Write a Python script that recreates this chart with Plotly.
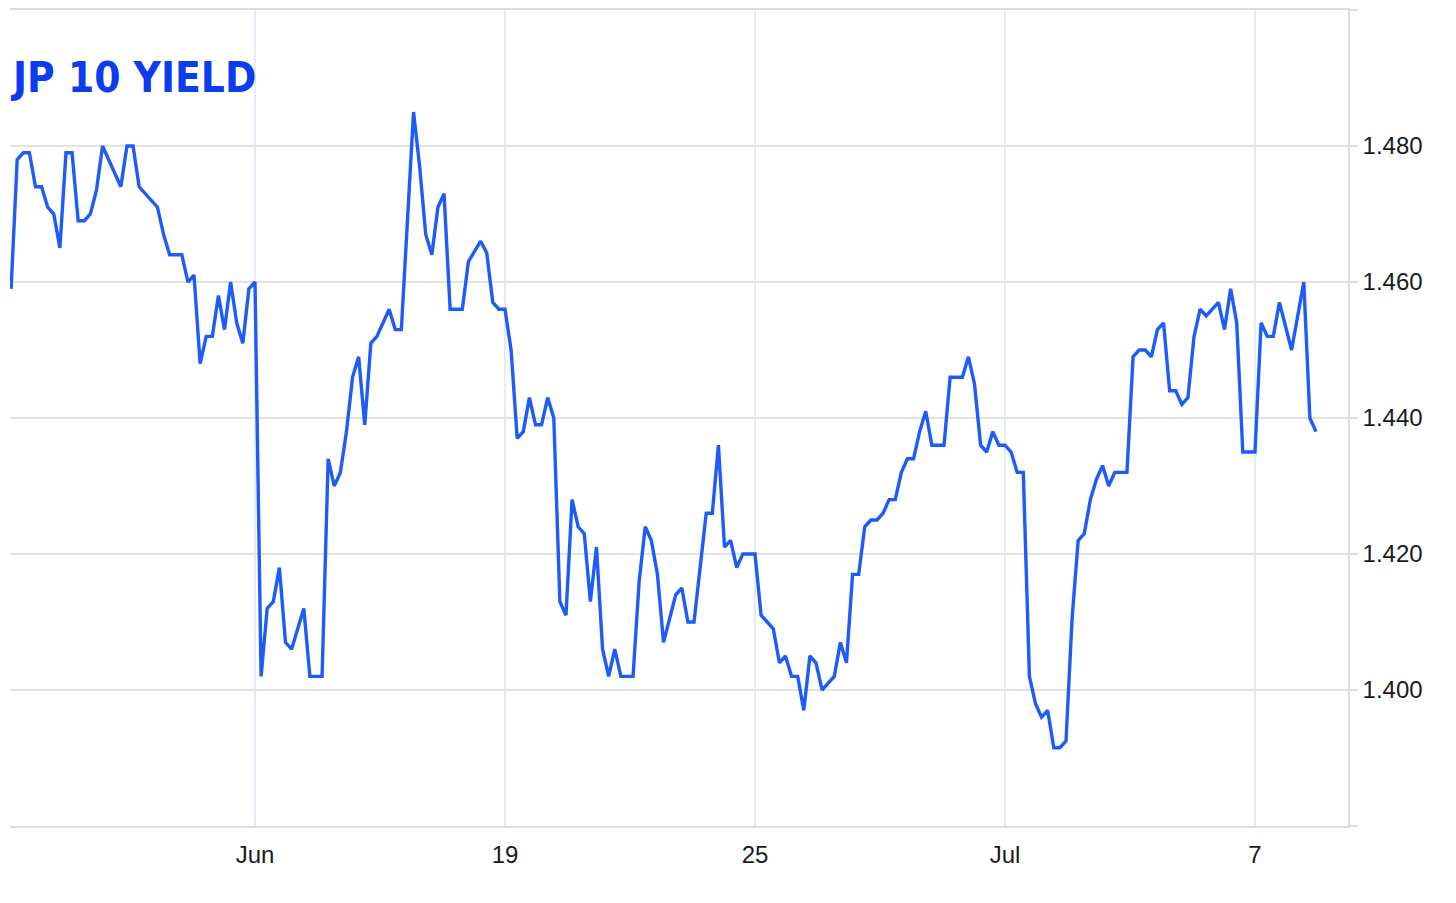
import plotly.graph_objects as go

# sample index (uniform intraday sampling), only turning points listed
sample_idx = [0, 1, 2, 3, 4, 5, 6, 7, 8, 9, 10, 11, 12, 13, 14, 15, 18, 19, 20, 21,
              24, 25, 26, 28, 29, 30, 31, 32, 33, 34, 35, 36, 37, 38, 39, 40, 41, 42, 43, 44,
              45, 46, 48, 49, 51, 52, 53, 54, 55, 56, 57, 58, 59, 60, 61, 62, 63, 64, 66, 67,
              68, 69, 70, 71, 72, 74, 75, 76, 77, 78, 79, 80, 81, 82, 83, 84, 85, 86, 87, 88,
              89, 90, 91, 92, 93, 94, 95, 96, 97, 98, 99, 100, 102, 103, 104, 105, 106, 107, 108, 109,
              110, 111, 112, 113, 114, 115, 116, 117, 118, 119, 120, 122, 123, 124, 125, 126, 127, 128, 129, 130,
              131, 132, 133, 134, 135, 136, 137, 138, 139, 140, 141, 142, 143, 144, 145, 146, 147, 148, 149, 150,
              151, 153, 154, 156, 157, 158, 159, 160, 161, 162, 163, 164, 165, 166, 167, 168, 169, 170, 171, 172,
              173, 174, 175, 176, 177, 178, 179, 180, 181, 183, 184, 185, 186, 187, 188, 189, 190, 191, 192, 193,
              194, 195, 196, 198, 199, 200, 201, 202, 204, 205, 206, 207, 208, 210, 212, 213, 214]

yield_pct = [1.459, 1.478, 1.479, 1.479, 1.474, 1.474, 1.471, 1.470, 1.465, 1.479, 1.479, 1.469, 1.469, 1.470, 1.4735, 1.480, 1.474, 1.480, 1.480, 1.474,
             1.471, 1.467, 1.464, 1.464, 1.460, 1.461, 1.448, 1.452, 1.452, 1.458, 1.453, 1.460, 1.454, 1.451, 1.459, 1.460, 1.402, 1.412, 1.413, 1.418,
             1.407, 1.406, 1.412, 1.402, 1.402, 1.434, 1.430, 1.432, 1.438, 1.446, 1.449, 1.439, 1.451, 1.452, 1.454, 1.456, 1.453, 1.453, 1.485, 1.477,
             1.467, 1.464, 1.471, 1.473, 1.456, 1.456, 1.463, 1.4645, 1.466, 1.4643, 1.457, 1.456, 1.456, 1.450, 1.437, 1.438, 1.443, 1.439, 1.439, 1.443,
             1.440, 1.413, 1.411, 1.428, 1.424, 1.423, 1.413, 1.421, 1.406, 1.402, 1.406, 1.402, 1.402, 1.416, 1.424, 1.422, 1.417, 1.407, 1.4105, 1.414,
             1.415, 1.410, 1.410, 1.4185, 1.426, 1.426, 1.436, 1.421, 1.422, 1.418, 1.420, 1.420, 1.411, 1.410, 1.409, 1.404, 1.405, 1.402, 1.402, 1.397,
             1.405, 1.404, 1.400, 1.401, 1.402, 1.407, 1.404, 1.417, 1.417, 1.424, 1.425, 1.425, 1.426, 1.428, 1.428, 1.432, 1.434, 1.434, 1.438, 1.441,
             1.436, 1.436, 1.446, 1.446, 1.449, 1.445, 1.436, 1.435, 1.438, 1.436, 1.436, 1.435, 1.432, 1.432, 1.402, 1.398, 1.396, 1.397, 1.3915, 1.3915,
             1.3925, 1.4105, 1.422, 1.423, 1.428, 1.431, 1.433, 1.430, 1.432, 1.432, 1.449, 1.450, 1.450, 1.449, 1.453, 1.454, 1.444, 1.444, 1.442, 1.443,
             1.452, 1.456, 1.455, 1.457, 1.453, 1.459, 1.454, 1.435, 1.435, 1.454, 1.452, 1.452, 1.457, 1.450, 1.460, 1.440, 1.438]

x_tick_pos = [40, 81, 122, 163, 204]
x_tick_text = ["Jun", "19", "25", "Jul", "7"]
y_tick_vals = [1.38, 1.40, 1.42, 1.44, 1.46, 1.48, 1.50]
y_tick_text = ["", "1.400", "1.420", "1.440", "1.460", "1.480", ""]

fig = go.Figure()
fig.add_trace(go.Scatter(
    x=sample_idx, y=yield_pct, mode="lines",
    line=dict(color="#1d5cf8", width=3.4),
    hoverinfo="skip", showlegend=False,
))

fig.update_layout(
    width=1448, height=895,
    margin=dict(l=2, r=108, t=0, b=77, pad=0),
    paper_bgcolor="white", plot_bgcolor="white",
    font=dict(family="Liberation Sans, Arial, sans-serif", size=24, color="#1a1a1a"),
    xaxis=dict(
        range=[-0.18, 219.25],
        tickmode="array", tickvals=x_tick_pos, ticktext=x_tick_text,
        showgrid=True, gridcolor="#e4edf5", gridwidth=1.5,
        showline=True, linecolor="#dcdcdc", linewidth=1.5, mirror=True,
        ticks="", zeroline=False, ticklabelstandoff=6,
        tickfont=dict(size=24, color="#1a1a1a"),
    ),
    yaxis=dict(
        range=[1.38, 1.50], side="right",
        tickmode="array", tickvals=y_tick_vals, ticktext=y_tick_text,
        showgrid=True, gridcolor="#e2e2e2", gridwidth=1.5,
        showline=True, linecolor="#dcdcdc", linewidth=1.5,
        ticks="outside", ticklen=8, tickcolor="#dcdcdc", tickwidth=1.5,
        zeroline=False, ticklabelstandoff=0,
        tickfont=dict(size=24, color="#1a1a1a"),
    ),
    annotations=[dict(
        text="<b>JP 10 YIELD</b>", xref="paper", yref="paper",
        x=0.0, y=0.9175, xanchor="left", yanchor="middle", showarrow=False, xshift=-2,
        font=dict(family="Liberation Sans Narrow, DejaVu Sans Condensed, sans-serif", size=42, color="#0b3cf0"),
    )],
)

fig.write_html("out.html")
